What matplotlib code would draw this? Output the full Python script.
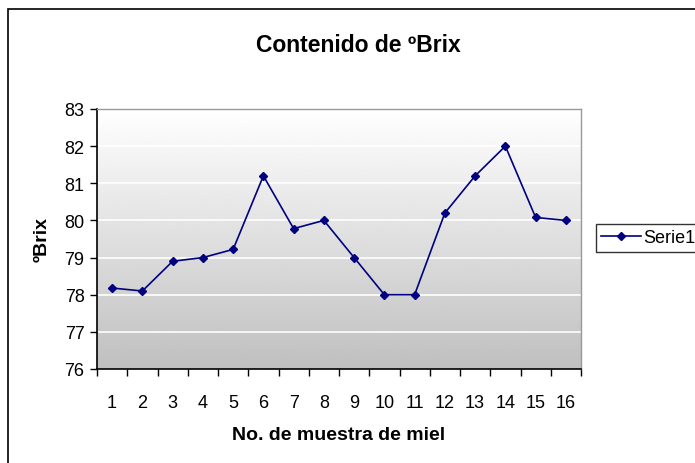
import numpy as np
import matplotlib.pyplot as plt
from matplotlib.patches import Rectangle

plt.rcParams['font.family'] = ['Liberation Sans', 'DejaVu Sans']

# data
muestras = list(range(1, 17))
brix = [78.18, 78.1, 78.9, 79.0, 79.22, 81.2, 79.78, 80.0,
        79.0, 78.0, 78.0, 80.2, 81.2, 82.0, 80.08, 80.0]
serie_label = "Serie1"
y_ticks = list(range(76, 84))

W, H = 695, 464
fig = plt.figure(figsize=(W / 100, H / 100), dpi=100)

# outer chart border (runs off the right and bottom edge)
fig.patches.append(Rectangle((8 / W, -0.05), 1.0, 1 - 10 / H + 0.05,
                             transform=fig.transFigure, fill=False,
                             edgecolor='black', linewidth=1.2))

ax = fig.add_axes([97 / W, 1 - 370 / H, (581 - 97) / W, (370 - 110) / H])

# gradient background for the plot area
grad = np.linspace(1.0, 0.75, 256).reshape(-1, 1)
ax.imshow(grad, cmap='gray', vmin=0, vmax=1, aspect='auto',
          extent=[0, 1, 0, 1], transform=ax.transAxes, zorder=0)

ax.set_xlim(0.5, 16.5)
ax.set_ylim(76, 83)
ax.set_yticks(y_ticks)
for yv in y_ticks[1:-1]:
    ax.axhline(yv, color='white', linewidth=1.2, zorder=1)

ax.plot(muestras, brix, color='#000080', marker='D', markersize=4,
        linewidth=1.2, label=serie_label, zorder=3)

ax.set_xticks(muestras)
ax.set_xticks(np.arange(0.5, 17, 1), minor=True)
ax.tick_params(axis='x', which='major', length=0, labelsize=13, pad=18)
ax.tick_params(axis='x', which='minor', length=5, direction='out', width=1)
ax.tick_params(axis='y', length=5, direction='out', labelsize=13, pad=4, width=1)

for s in ['left', 'bottom']:
    ax.spines[s].set_color('black')
    ax.spines[s].set_linewidth(1.2)
for s in ['top', 'right']:
    ax.spines[s].set_color('#999999')
    ax.spines[s].set_linewidth(1)

ax.set_xlabel('No. de muestra de miel', fontsize=14, fontweight='bold', labelpad=11)
ax.set_ylabel('ºBrix', fontsize=14, fontweight='bold', labelpad=10)

fig.text(358 / W, 1 - 46 / H, 'Contenido de ºBrix',
         ha='center', va='center', fontsize=16.5, fontweight='bold')

# legend box runs past the right edge, as in the original
leg = fig.legend(loc='center left', bbox_to_anchor=(596 / W, 1 - 239 / H),
                 fontsize=13, frameon=True, fancybox=False, handlelength=2.2,
                 borderpad=0.3, handletextpad=0.1, borderaxespad=0)
leg.get_frame().set_edgecolor('black')
leg.get_frame().set_linewidth(1)

fig.savefig('out.png', dpi=100)
